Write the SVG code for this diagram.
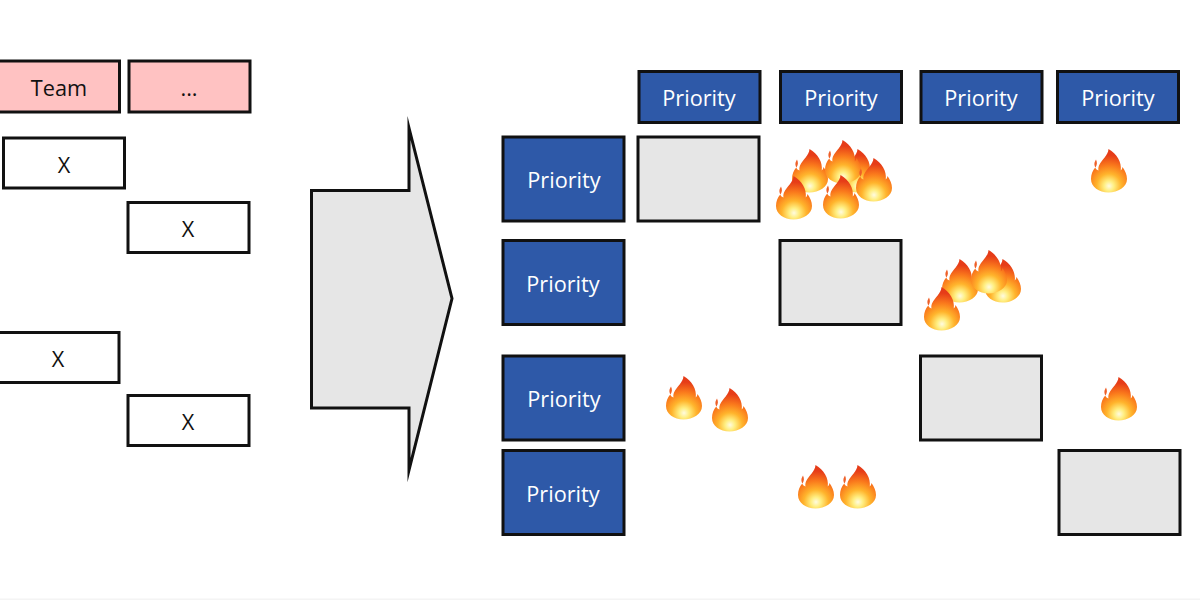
<svg xmlns="http://www.w3.org/2000/svg" width="1200" height="600" viewBox="0 0 1200 600">
<style>
.b{stroke:#111;stroke-width:3}
.h{fill:#2e59a8}
.g{fill:#e6e6e6}
.p{fill:#ffc2c2}
.w{fill:#fff}
text{font-family:"Open Sans","DejaVu Sans",sans-serif;font-size:21.700px;text-anchor:middle;dominant-baseline:central}
.l{fill:#fff}
.d{fill:#111}
</style>
<defs>
<radialGradient id="fg" gradientUnits="userSpaceOnUse" cx="0" cy="15" r="36">
<stop offset="0" stop-color="#fffbe0"/>
<stop offset=".14" stop-color="#ffee80"/>
<stop offset=".34" stop-color="#ffb42c"/>
<stop offset=".58" stop-color="#fa7a1c"/>
<stop offset=".86" stop-color="#e63c18"/>
</radialGradient>
<symbol id="fire" overflow="visible">
<path fill="url(#fg)" d="M-.5-22C-1-15-7-12-10-5.500C-10.800-3.500-10.800-2-10.500-.5C-12-1-13.200-2-13.800-3.500C-16.500-.5-18 3.500-18 8C-18 16-10 21.500-.5 21.500C9 21.500 18 16 18 8C18 3.500 16-.5 13.500-4C13.300-2.500 12.800-1.500 11.800-.5C12.800-9 8-17-.5-22Z"/>
<path fill="#ee5f28" d="M-13-11.500C-14.500-9-15.500-6.500-13.500-3.500C-12-6-11.500-8.500-13-11.500Z"/>
</symbol>
</defs>
<rect width="1200" height="600" fill="#fff"/>
<rect x="0" y="598.500" width="1200" height="1.500" fill="#f4f4f4"/>
<g id="team"><rect class="b p" x="-8" y="61" width="127.500" height="51"/><text class="d" x="59" y="87">Team</text></g>
<g id="more"><rect class="b p" x="129" y="61" width="121" height="51"/><text class="d" x="189" y="87">...</text></g>
<g id="x1"><rect class="b w" x="3.500" y="138" width="121" height="50"/><text class="d" x="64" y="164">X</text></g>
<g id="x2"><rect class="b w" x="128" y="202.500" width="121" height="50"/><text class="d" x="188" y="228">X</text></g>
<g id="x3"><rect class="b w" x="-2" y="332.500" width="121" height="50"/><text class="d" x="58" y="358">X</text></g>
<g id="x4"><rect class="b w" x="128" y="395.500" width="121" height="50"/><text class="d" x="188" y="421">X</text></g>
<g id="arrow"><path d="M311.500 190.500H409V128L452 298.500L409 470V408H311.500Z" fill="#e6e6e6" stroke="#111" stroke-width="3" stroke-miterlimit="20"/></g>
<g id="col1"><rect class="b h" x="639" y="71.500" width="121" height="51"/><text class="l" x="699" y="97">Priority</text></g>
<g id="col2"><rect class="b h" x="780.500" y="71.500" width="121" height="51"/><text class="l" x="841" y="97">Priority</text></g>
<g id="col3"><rect class="b h" x="921" y="71.500" width="121" height="51"/><text class="l" x="981" y="97">Priority</text></g>
<g id="col4"><rect class="b h" x="1057.500" y="71.500" width="121" height="51"/><text class="l" x="1118" y="97">Priority</text></g>
<g id="row1"><rect class="b h" x="503" y="137" width="121" height="84"/><text class="l" x="564" y="179">Priority</text></g>
<g id="row2"><rect class="b h" x="503" y="240.500" width="121" height="84"/><text class="l" x="563" y="283">Priority</text></g>
<g id="row3"><rect class="b h" x="503" y="356" width="121" height="84"/><text class="l" x="564" y="398">Priority</text></g>
<g id="row4"><rect class="b h" x="503" y="450.500" width="121" height="84"/><text class="l" x="563" y="493">Priority</text></g>
<g id="cell1"><rect class="b g" x="638" y="137" width="121" height="84"/></g>
<g id="cell2"><rect class="b g" x="780" y="240.500" width="121" height="84"/></g>
<g id="cell3"><rect class="b g" x="920.500" y="356" width="121" height="84"/></g>
<g id="cell4"><rect class="b g" x="1059" y="450.500" width="121" height="84"/></g>
<g id="flames">
<use href="#fire" x="858" y="171"/>
<use href="#fire" x="810" y="171"/>
<use href="#fire" x="843" y="162"/>
<use href="#fire" x="874" y="180"/>
<use href="#fire" x="794" y="198"/>
<use href="#fire" x="841" y="197"/>
<use href="#fire" x="1109" y="171"/>
<use href="#fire" x="1003" y="281"/>
<use href="#fire" x="960" y="281"/>
<use href="#fire" x="989" y="272"/>
<use href="#fire" x="942" y="309"/>
<use href="#fire" x="684" y="398"/>
<use href="#fire" x="730" y="410"/>
<use href="#fire" x="1119" y="399"/>
<use href="#fire" x="816" y="487"/>
<use href="#fire" x="858" y="487"/>
</g>
</svg>
